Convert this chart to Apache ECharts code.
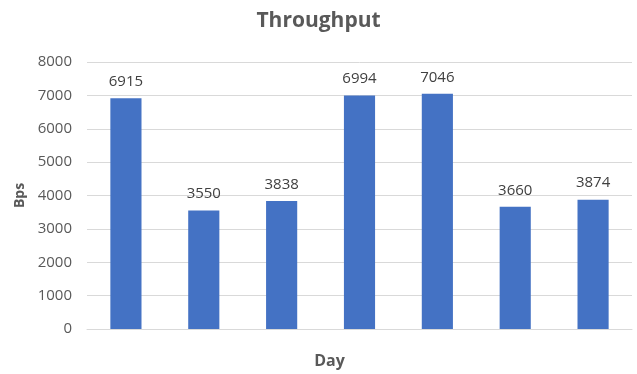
<!DOCTYPE html>
<html>
<head>
<meta charset="utf-8">
<script src="https://cdn.jsdelivr.net/npm/echarts@6/dist/echarts.min.js"></script>
<style>
html,body{margin:0;padding:0;background:#fff;}
#chart{width:637px;height:374px;}
</style>
</head>
<body>
<div id="chart"></div>
<script>
const categories = ['1', '2', '3', '4', '5', '6', '7'];
const throughput = [6915, 3550, 3838, 6994, 7046, 3660, 3874];
const yMin = 0, yMax = 8000, yStep = 1000;

const chart = echarts.init(document.getElementById('chart'), null, {renderer: 'canvas'});
chart.setOption({
  animation: false,
  backgroundColor: '#ffffff',
  title: {
    text: 'Throughput',
    left: 'center',
    top: 6,
    textStyle: {
      fontFamily: '"Open Sans", sans-serif',
      fontWeight: 'bold',
      fontSize: 21,
      color: '#595959'
    }
  },
  grid: {left: 87, right: 5, top: 62, bottom: 44},
  xAxis: {
    type: 'category',
    data: categories,
    name: 'Day',
    nameLocation: 'middle',
    nameGap: 24,
    nameTextStyle: {
      fontFamily: '"Open Sans", sans-serif',
      fontWeight: 'bold',
      fontSize: 16,
      color: '#595959',
      padding: [0, 60, 0, 0]
    },
    axisLine: {show: true, lineStyle: {color: '#d9d9d9', width: 1}},
    axisTick: {show: false},
    axisLabel: {show: false}
  },
  yAxis: {
    type: 'value',
    min: yMin,
    max: yMax,
    interval: yStep,
    name: 'Bps',
    nameLocation: 'middle',
    nameGap: 60,
    nameTextStyle: {
      fontFamily: '"Open Sans", sans-serif',
      fontWeight: 'bold',
      fontSize: 14,
      color: '#595959'
    },
    axisLine: {show: false},
    axisTick: {show: false},
    axisLabel: {
      margin: 15,
      fontFamily: '"Open Sans", sans-serif',
      fontSize: 15,
      color: '#595959',
      formatter: function (v) { return String(v); }
    },
    splitLine: {lineStyle: {color: '#d9d9d9', width: 1}}
  },
  series: [{
    type: 'bar',
    data: throughput,
    barWidth: '40%',
    itemStyle: {color: '#4472C4'},
    label: {
      show: true,
      position: 'top',
      distance: 9,
      fontFamily: '"Open Sans", sans-serif',
      fontSize: 15,
      color: '#404040'
    }
  }]
});
</script>
</body>
</html>
